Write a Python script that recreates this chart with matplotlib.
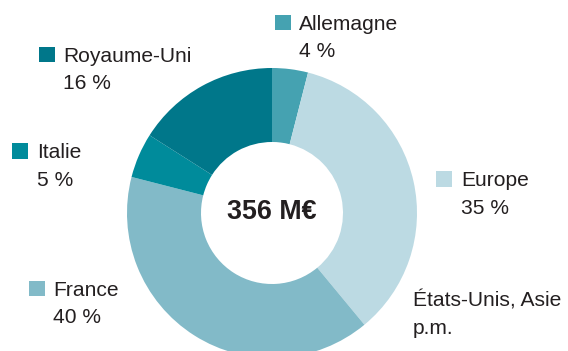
import matplotlib
matplotlib.use("Agg")
import matplotlib.pyplot as plt
from matplotlib.patches import Rectangle

# Répartition du chiffre d'affaires par zone géographique
regions = ["Allemagne", "Europe", "États-Unis, Asie", "France", "Italie", "Royaume-Uni"]
shares = [4, 35, 0, 40, 5, 16]
share_labels = ["4 %", "35 %", "p.m.", "40 %", "5 %", "16 %"]
colors = ["#45a2b1", "#bcdae3", "#bcdae3", "#82bac8", "#008b9b", "#00778a"]
total_label = "356 M€"

W, H = 568, 351
fig = plt.figure(figsize=(W / 100, H / 100), dpi=100)
ax = fig.add_axes([0, 0, 1, 1])

cx, cy = 272, H - 213
outer_r, ring_w = 145, 74

ax.pie(shares, colors=colors, radius=outer_r, center=(cx, cy),
       startangle=90, counterclock=False,
       wedgeprops=dict(width=ring_w, linewidth=0))

ax.set_xlim(0, W)
ax.set_ylim(0, H)
ax.set_aspect("equal")
ax.axis("off")

font = "Liberation Sans"
txt_color = "#231f20"
fs = 15.1

# legend entries: (square left x, first baseline y, text left x) in pixels from top-left
placements = {
    "Allemagne": (275, 30, 299),
    "Europe": (436, 186.5, 461),
    "États-Unis, Asie": (None, 306.5, 413),
    "France": (29, 296, 53),
    "Italie": (12, 158.5, 37),
    "Royaume-Uni": (39, 62, 63),
}
line_gap = 27

for name, lab, col in zip(regions, share_labels, colors):
    sq_x, base_y, tx = placements[name]
    if sq_x is not None:
        ax.add_patch(Rectangle((sq_x, H - base_y), 16, 15.5,
                               facecolor=col, edgecolor="none"))
    ax.text(tx, H - base_y, name, fontsize=fs, family=font,
            color=txt_color, va="baseline", ha="left")
    ax.text(tx, H - base_y - line_gap, lab, fontsize=fs, family=font,
            color=txt_color, va="baseline", ha="left")

ax.text(cx, H - 218.7, total_label, fontsize=19.4, family=font,
        fontweight="bold", color=txt_color, va="baseline", ha="center")

fig.savefig("out.png", dpi=100, facecolor="white")
